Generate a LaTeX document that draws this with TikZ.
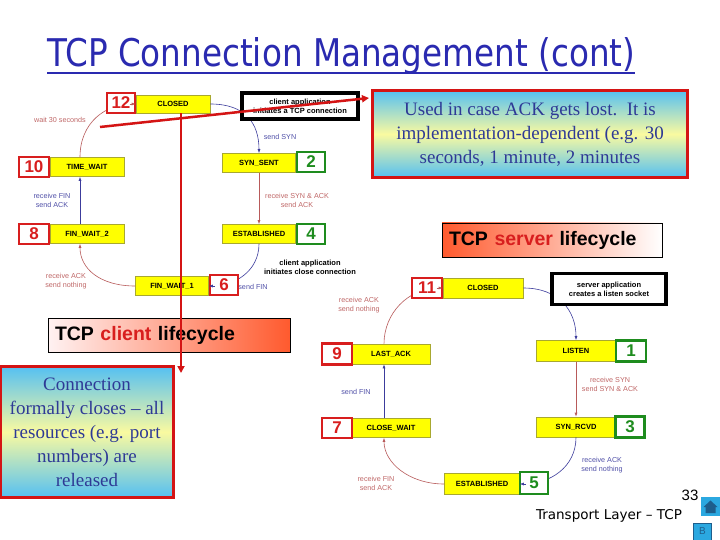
\documentclass[tikz,border=0pt]{standalone}
\usepackage{fontspec}
\setmainfont{Liberation Serif}
\newfontfamily\arialf{Liberation Sans}
\newfontfamily\titlef{DejaVu Sans}
\usetikzlibrary{arrows.meta}
\definecolor{stfill}{HTML}{FFFF00}
\definecolor{stedge}{HTML}{A8A830}
\definecolor{numred}{HTML}{D81E1E}
\definecolor{numgreen}{HTML}{1E8C1E}
\definecolor{arrblue}{HTML}{3C3C9C}
\definecolor{arrred}{HTML}{B85A5A}
\definecolor{lblblue}{HTML}{5050A8}
\definecolor{lblred}{HTML}{C06868}
\definecolor{annred}{HTML}{D41414}
\definecolor{skyb}{HTML}{55C0F2}
\definecolor{paley}{HTML}{FAFAA0}
\definecolor{notetext}{HTML}{2E3A96}
\definecolor{titleblue}{HTML}{2A2AB0}
\definecolor{lifered}{HTML}{FF5A2E}
\definecolor{lifepale}{HTML}{FFF2F2}
\definecolor{iconblue}{HTML}{2BA8E0}
\definecolor{icondark}{HTML}{1E5E8C}
\begin{document}
\begin{tikzpicture}[x=1pt,y=-1pt,
 stbox/.style={draw=stedge, line width=0.6pt, fill=stfill, inner sep=0pt, font=\arialf\bfseries\fontsize{7.5}{8}\selectfont},
 nbox/.style={fill=white, line width=2.6pt, inner sep=0pt, font=\arialf\bfseries\fontsize{17}{17}\selectfont},
 nred/.style={nbox, draw=numred, text=numred},
 ngreen/.style={nbox, draw=numgreen, text=numgreen},
 appbox/.style={draw=black, line width=3.5pt, fill=white, inner sep=0pt, align=center, font=\arialf\bfseries\fontsize{7.5}{9}\selectfont},
 lbl/.style={inner sep=0pt, align=center, font=\arialf\fontsize{7.2}{9}\selectfont},
 lblb/.style={lbl, text=lblblue},
 lblr/.style={lbl, text=lblred},
 ab/.style={draw=arrblue, line width=0.6pt, -{Latex[length=4pt,width=3pt]}},
 ar/.style={draw=arrred, line width=0.6pt, -{Latex[length=4pt,width=3pt]}},
 note/.style={draw=annred, line width=2.5pt, top color=skyb, bottom color=skyb, middle color=paley, text=notetext, align=center, inner sep=0pt, font=\fontsize{19}{24}\selectfont},
 life/.style={draw=black, line width=0.8pt, inner ysep=0pt, inner xsep=7pt, align=left, font=\arialf\bfseries\fontsize{19.5}{20}\selectfont},
 ann/.style={draw=annred, line width=2.5pt, -{Triangle[length=7pt,width=7pt]}},
]
\useasboundingbox (0,0) rectangle (720,540);
\fill[white] (0,0) rectangle (720,540);

% title
\node[anchor=base west, inner sep=0pt, text=titleblue] (title) at (47,67)
  {\resizebox{588pt}{29pt}{\titlef TCP Connection Management (cont)}};
\draw[titleblue, line width=1.8pt] (title.base west) ++(0,6) coordinate (ul1) -- ++(588,0) coordinate (ul2);

% ---------------- client ----------------
\node[stbox, minimum width=74pt, minimum height=18pt] (cclosed) at (173,104) {CLOSED};
\node[stbox, minimum width=74pt, minimum height=19pt] (ctimewait) at (87,167) {TIME\_WAIT};
\node[stbox, minimum width=73pt, minimum height=19pt] (csynsent) at (259,163) {SYN\_SENT};
\node[stbox, minimum width=73pt, minimum height=19pt] (cest) at (259,234) {ESTABLISHED};
\node[stbox, minimum width=74pt, minimum height=19pt] (cfw2) at (87,234) {FIN\_WAIT\_2};
\node[stbox, minimum width=73pt, minimum height=19pt] (cfw1) at (172,286) {FIN\_WAIT\_1};

\path[ab] (cclosed.east) .. controls +(35,0) and +(0,-30) .. (csynsent.north);
\path[ar] (csynsent.south) -- (cest.north);
\path[ab] (cest.south) .. controls +(0,28) and +(25,0) .. (cfw1.east);
\path[ar] (cfw1.west) .. controls +(-35,0) and +(0,25) .. ([xshift=-7pt]cfw2.south);
\path[ab] ([xshift=-7pt]cfw2.north) -- ([xshift=-7pt]ctimewait.south);
\path[ar] ([xshift=-7pt]ctimewait.north) .. controls +(0,-35) and +(-30,0) .. (cclosed.west);

\node[lblr] (lw30) at (60,120) {wait 30 seconds};
\node[lblb] (lsyn) at (280,137) {send SYN};
\node[lblr] (lsynack) at (297,200) {receive SYN \& ACK\\send ACK};
\node[lblb] (lfin1) at (52,200) {receive FIN\\send ACK};
\node[lbl, font=\arialf\bfseries\fontsize{7.5}{9}\selectfont] (lclose) at (310,267) {client application\\initiates close connection};
\node[lblb] (lsfin) at (253,287) {send FIN};
\node[lblr] (lack1) at (66,281) {receive ACK\\send nothing};

\node[nred, minimum width=28pt, minimum height=20pt] (c12) at (121,103) {12};
\node[nred, minimum width=30pt, minimum height=20pt] (c10) at (34,167) {10};
\node[ngreen, minimum width=28pt, minimum height=20pt] (c2) at (311,162) {2};
\node[ngreen, minimum width=28pt, minimum height=20pt] (c4) at (311,234) {4};
\node[nred, minimum width=30pt, minimum height=20pt] (c8) at (34,234) {8};
\node[nred, minimum width=28pt, minimum height=20pt] (c6) at (224,285) {6};
\path[ar] ([xshift=-6pt]cclosed.west) -- (cclosed.west);
\path[ab] ([xshift=6pt]cfw1.east) -- (cfw1.east);

\node[appbox, minimum width=116pt, minimum height=26pt] (capp) at (300,106) {client application\\initiates a TCP connection};

% ---------------- server ----------------
\node[stbox, minimum width=80pt, minimum height=20pt] (sclosed) at (483,288) {CLOSED};
\node[stbox, minimum width=79pt, minimum height=21pt] (slisten) at (576,351) {LISTEN};
\node[stbox, minimum width=79pt, minimum height=20pt] (ssynrcvd) at (576,427) {SYN\_RCVD};
\node[stbox, minimum width=75pt, minimum height=21pt] (sest) at (482,484) {ESTABLISHED};
\node[stbox, minimum width=78pt, minimum height=19pt] (scw) at (391,428) {CLOSE\_WAIT};
\node[stbox, minimum width=78pt, minimum height=20pt] (sla) at (391,354) {LAST\_ACK};

\path[ab] (sclosed.east) .. controls +(35,0) and +(0,-30) .. (slisten.north);
\path[ar] (slisten.south) -- (ssynrcvd.north);
\path[ab] (ssynrcvd.south) .. controls +(0,30) and +(30,0) .. (sest.east);
\path[ar] (sest.west) .. controls +(-35,0) and +(0,25) .. ([xshift=-7pt]scw.south);
\path[ab] ([xshift=-7pt]scw.north) -- ([xshift=-7pt]sla.south);
\path[ar] ([xshift=-7pt]sla.north) .. controls +(0,-30) and +(-35,0) .. (sclosed.west);

\node[lblr] (lack2) at (359,305) {receive ACK\\send nothing};
\node[lblr] (lsyn2) at (610,384) {receive SYN\\send SYN \& ACK};
\node[lblb] (lack3) at (602,465) {receive ACK\\send nothing};
\node[lblb] (lsfin2) at (356,392) {send FIN};
\node[lblr] (lfin2) at (376,483) {receive FIN\\send ACK};

\node[nred, minimum width=30pt, minimum height=20pt] (s11) at (427,288) {11};
\node[ngreen, minimum width=30pt, minimum height=21pt] (s1) at (631,351) {1};
\node[ngreen, minimum width=29pt, minimum height=21pt] (s3) at (630,427) {3};
\node[ngreen, minimum width=28pt, minimum height=22pt] (s5) at (534,483) {5};
\node[nred, minimum width=30pt, minimum height=20pt] (s7) at (337,428) {7};
\node[nred, minimum width=30pt, minimum height=21pt] (s9) at (337,354) {9};
\path[ar] ([xshift=-6pt]sclosed.west) -- (sclosed.west);
\path[ab] ([xshift=6pt]sest.east) -- (sest.east);

\node[appbox, minimum width=114pt, minimum height=31pt] (sapp) at (609,289) {server application\\creates a listen socket};

% ---------------- notes ----------------
\node[note, minimum width=315pt, minimum height=87pt] (usednote) at (530,134)
  {Used in case ACK gets lost.\ \ It is\\implementation-dependent (e.g. 30\\seconds, 1 minute, 2 minutes};
\node[life, left color=lifered, right color=white, minimum width=220pt, minimum height=34pt, text width=206pt] (slife) at (552,240)
  {TCP \textcolor{numred}{server} lifecycle};
\node[life, left color=lifepale, right color=lifered, minimum width=242pt, minimum height=34pt, text width=228pt] (clife) at (169,335)
  {TCP \textcolor{numred}{client} lifecycle};
\node[note, minimum width=173pt, minimum height=131pt] (connnote) at (87,432)
  {Connection\\formally closes – all\\resources (e.g. port\\numbers) are\\released};

% red annotation arrows
\coordinate (w30a) at (100,127);
\coordinate (usedtip) at (369,98);
\draw[ann] (w30a) -- (usedtip);
\coordinate (conntip) at (181,373);
\draw[ann] (cclosed.south -| conntip) -- (conntip);

% ---------------- footer ----------------
\node[inner sep=0pt, font=\arialf\fontsize{15}{15}\selectfont] (pnum) at (690,495) {33};
\fill[iconblue] (701,497) rectangle (720,516);
\fill[icondark] (703.5,507) -- (710.5,500.5) -- (717.5,507) -- (715.5,507) -- (715.5,513) -- (705.5,513) -- (705.5,507) -- cycle;
\node[inner sep=0pt] (footer) at (609,516) {\resizebox{146pt}{!}{\titlef\fontsize{13}{13}\selectfont Transport Layer – TCP}};
\node[draw=icondark, line width=0.6pt, fill=iconblue, minimum width=18pt, minimum height=17pt, inner sep=0pt, text=icondark, font=\arialf\fontsize{10}{10}\selectfont] (bbox) at (702.5,531.5) {B};
\end{tikzpicture}
\end{document}
